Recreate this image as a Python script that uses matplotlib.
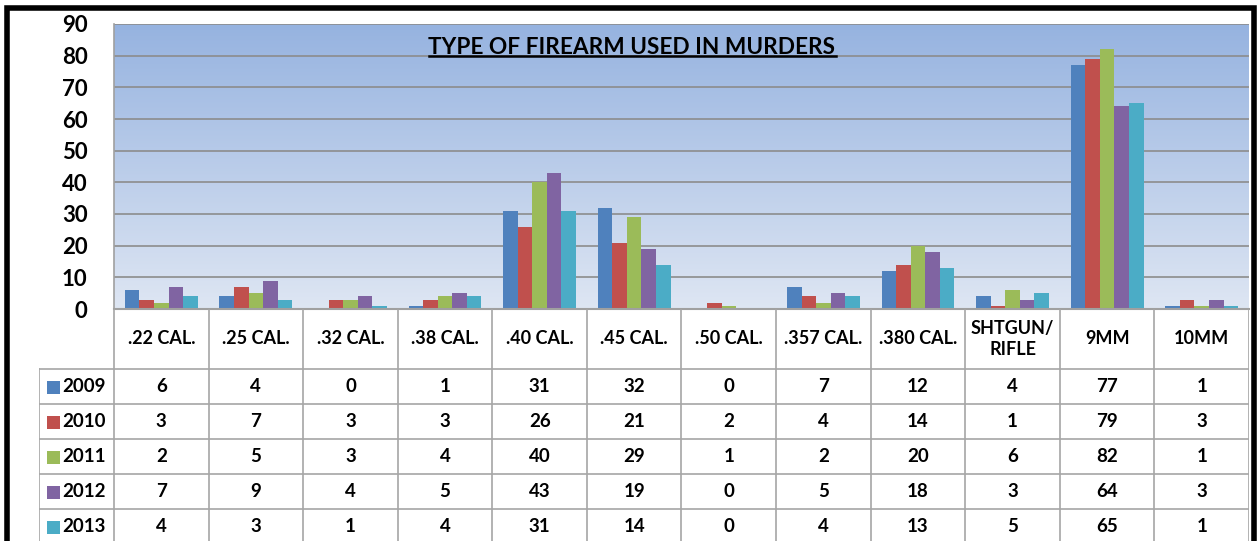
"""Type of firearm used in murders, 2009-2013 (column chart with data table)."""

import matplotlib.pyplot as plt
import numpy as np
from matplotlib.colors import LinearSegmentedColormap
from matplotlib.patches import Rectangle

categories = [".22 CAL.", ".25 CAL.", ".32 CAL.", ".38 CAL.", ".40 CAL.", ".45 CAL.",
              ".50 CAL.", ".357 CAL.", ".380 CAL.", "SHTGUN/\nRIFLE", "9MM", "10MM"]
years = ["2009", "2010", "2011", "2012", "2013"]
v2009 = [6, 4, 0, 1, 31, 32, 0, 7, 12, 4, 77, 1]
v2010 = [3, 7, 3, 3, 26, 21, 2, 4, 14, 1, 79, 3]
v2011 = [2, 5, 3, 4, 40, 29, 1, 2, 20, 6, 82, 1]
v2012 = [7, 9, 4, 5, 43, 19, 0, 5, 18, 3, 64, 3]
v2013 = [4, 3, 1, 4, 31, 14, 0, 4, 13, 5, 65, 1]
series = [v2009, v2010, v2011, v2012, v2013]
colors = ["#4F81BD", "#C0504D", "#9BBB59", "#8064A2", "#4BACC6"]
y_ticks = list(range(0, 100, 10))

plt.rcParams["font.family"] = ["Lato", "DejaVu Sans"]

W, H = 1257, 541
fig = plt.figure(figsize=(W / 100, H / 100), dpi=100)
fig.patch.set_facecolor("white")

# pixel layout
plot_l, plot_r, plot_t, plot_b = 114, 1249, 24, 309
leg_l = 39
col_w = (plot_r - plot_l) / len(categories)


def fx(px):
    return px / W


def fy(py):
    return 1 - py / H


# outer black frame
fig.patches.append(Rectangle((fx(7), fy(H + 20)), fx(1254) - fx(7), fy(8) - fy(H + 20),
                             transform=fig.transFigure, fill=False, edgecolor="black",
                             linewidth=4, zorder=10))

ax = fig.add_axes([fx(plot_l), fy(plot_b), fx(plot_r) - fx(plot_l), fy(plot_t) - fy(plot_b)])
x = np.arange(len(categories))
ax.set_xlim(-0.5, len(categories) - 0.5)
ax.set_ylim(0, 90)

# gradient background
cmap = LinearSegmentedColormap.from_list("bg", ["#DEE6F3", "#96B3E0"])
grad = np.linspace(0, 1, 256).reshape(-1, 1)
ax.imshow(grad, cmap=cmap, aspect="auto", origin="lower",
          extent=[-0.5, len(categories) - 0.5, 0, 90], zorder=0)

for yv in y_ticks[1:]:
    ax.axhline(yv, color="#8C8C8C", linewidth=1.2, zorder=1)

bar_w = 0.154
for j, (vals, c) in enumerate(zip(series, colors)):
    ax.bar(x + (j - 2) * bar_w, vals, width=bar_w, color=c, zorder=2, linewidth=0)

ax.set_yticks(y_ticks)
ax.set_yticklabels([str(t) for t in y_ticks], fontsize=16, fontweight="bold")
ax.tick_params(axis="y", length=0, pad=19)
ax.set_xticks([])
for side in ["top", "right"]:
    ax.spines[side].set_visible(False)
ax.spines["left"].set_color("#A0A0A0")
ax.spines["bottom"].set_color("#A0A0A0")
ax.spines["left"].set_linewidth(1.2)
ax.spines["bottom"].set_linewidth(1.5)

# title is centred on the whole chart, not on the plot area
title = fig.text(fx(632), fy(47), "TYPE OF FIREARM USED IN MURDERS",
                 ha="center", va="center", fontsize=16.3, fontweight="bold", zorder=5)

# data table below the plot
tax = fig.add_axes([fx(leg_l), 0, fx(plot_r) - fx(leg_l), fy(plot_b)])
tax.set_xlim(-0.5 - (plot_l - leg_l) / col_w, len(categories) - 0.5)
tax.set_ylim(H - plot_b, 0)
tax.axis("off")

head_h, row_h = 60, 35
line_kw = dict(color="#A6A6A6", linewidth=1.2)
leg_x0 = -0.5 - (plot_l - leg_l) / col_w
for i in range(len(categories) + 1):
    tax.plot([i - 0.5, i - 0.5], [0, H], **line_kw)
tax.plot([leg_x0, leg_x0], [head_h, H], **line_kw)
for r in range(len(years) + 1):
    yy = head_h + r * row_h
    tax.plot([leg_x0, len(categories) - 0.5], [yy, yy], **line_kw)

for i, cat in enumerate(categories):
    tax.text(i, head_h / 2, cat, ha="center", va="center", fontsize=13,
             fontweight="bold", linespacing=1.25)

for r, (yr, vals, c) in enumerate(zip(years, series, colors)):
    yc = head_h + (r + 0.5) * row_h
    sq_x = leg_x0 + (47 - leg_l) / col_w
    tax.add_patch(Rectangle((sq_x, yc - 6), 13 / col_w, 13, facecolor=c, edgecolor="none"))
    tax.text(leg_x0 + (62 - leg_l) / col_w, yc, yr, ha="left", va="center",
             fontsize=13.5, fontweight="bold")
    for i, v in enumerate(vals):
        tax.text(i, yc, str(v), ha="center", va="center", fontsize=13.5, fontweight="bold")

# underline the title
fig.canvas.draw()
bb = title.get_window_extent().transformed(fig.transFigure.inverted())
fig.add_artist(plt.Line2D([bb.x0, bb.x1], [bb.y0 + 0.002, bb.y0 + 0.002],
                          transform=fig.transFigure, color="black", linewidth=1.8))

fig.savefig("out.png", dpi=100)
